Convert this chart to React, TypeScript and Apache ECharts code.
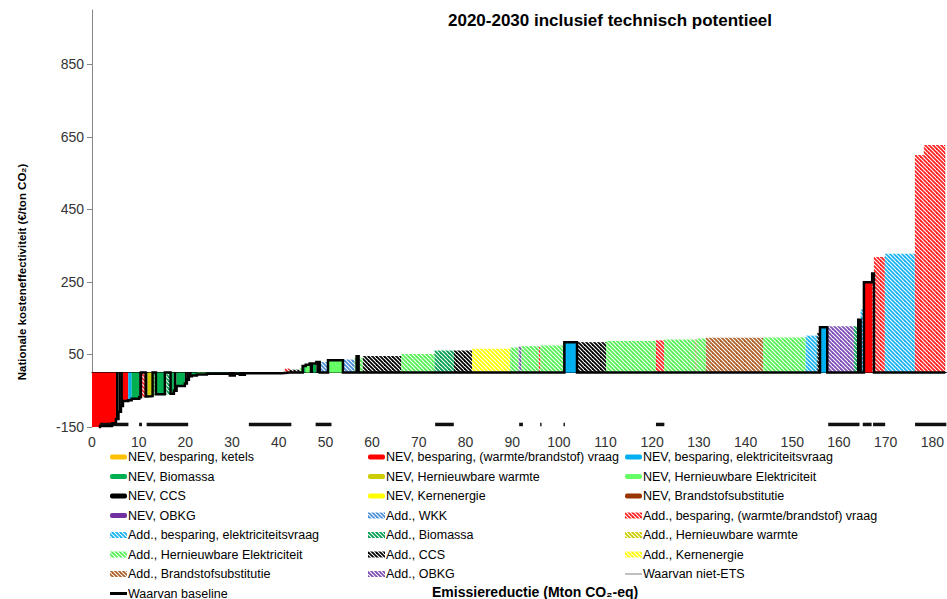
import React, { useEffect, useRef } from 'react';
import * as echarts from 'echarts';

// ---------- categories / legend ----------
const categoryKeys = ['nK', 'nW', 'nE', 'nB', 'nHW', 'nHE', 'nCCS', 'nKern', 'nBS', 'nO',
  'aWKK', 'aW', 'aE', 'aB', 'aHW', 'aHE', 'aCCS', 'aKern', 'aBS', 'aO', 'nietEts', 'baseline'];
const legendLabels = [
  'NEV, besparing, ketels', 'NEV, besparing, (warmte/brandstof) vraag', 'NEV, besparing, elektriciteitsvraag',
  'NEV, Biomassa', 'NEV, Hernieuwbare warmte', 'NEV, Hernieuwbare Elektriciteit',
  'NEV, CCS', 'NEV, Kernenergie', 'NEV, Brandstofsubstitutie',
  'NEV, OBKG', 'Add., WKK', 'Add., besparing, (warmte/brandstof) vraag',
  'Add., besparing, elektriciteitsvraag', 'Add., Biomassa', 'Add., Hernieuwbare warmte',
  'Add., Hernieuwbare Elektriciteit', 'Add., CCS', 'Add., Kernenergie',
  'Add., Brandstofsubstitutie', 'Add., OBKG', 'Waarvan niet-ETS',
  'Waarvan baseline'];
const categoryColors = ['#FFC000', '#FF0000', '#00B0F0', '#00B050', '#CCCC00', '#66FF66', '#000000', '#FFFF00', '#993300', '#7030A0',
  '#4A8FD8', '#FF2020', '#19B4F0', '#00A050', '#CCCC00', '#55F055', '#000000', '#FFFF00', '#B0602A', '#8050B8', '#BFBFBF', '#000000'];
const categoryKinds = ['solid', 'solid', 'solid', 'solid', 'solid', 'solid', 'solid', 'solid', 'solid', 'solid',
  'hatch', 'hatch', 'hatch', 'hatch', 'hatch', 'hatch', 'hatch', 'hatch', 'hatch', 'hatch', 'thin', 'thick'];

// ---------- measures (in merit order) ----------
const measureWidths = [1.71, 2.57, 0.85, 0.54, 0.53, 0.43, 1.13, 0.73, 1.63, 0.36,
  1.01, 0.42, 1.07, 0.71, 1.92, 0.37, 0.85, 0.71, 0.58, 1.77,
  0.43, 0.43, 0.64, 1.07, 2.14, 4.92, 1.07, 1.07, 1.07, 7.91,
  0.64, 1.07, 2.14, 0.64, 0.65, 0.85, 0.71, 0.72, 0.71, 1.78,
  3.20, 2.51, 0.42, 0.43, 0.92, 8.22, 7.12, 4.17, 3.89, 8.13,
  1.84, 0.58, 3.74, 0.32, 5.14, 2.71, 6.21, 10.69, 1.78, 6.73,
  0.15, 2.04, 12.25, 9.14, 2.48, 0.58, 1.56, 5.71, 0.92, 0.51,
  0.71, 1.77, 0.37, 2.35, 6.42, 1.92, 4.60];
const measureCosts = [-200, -147, -140, -128, -108, -92, -78, -76, -72, -68,
  -68, -66, -65, -63, -60, -60, -60, -58, -50, -37,
  -30, -20, -10, -8, -5, -3, -8, -3, -6, -2,
  -1, 11, 8, 12, 18, 22, 25, 25, 29, 29,
  34, 36, 40, 45, 41, 46, 51, 61, 61, 66,
  69, 72, 73, 71, 75, 84, 84, 87, 89, 91,
  91, 94, 96, 97, 102, 110, 125, 128, 128, 146,
  174, 249, 273, 319, 328, 600, 628];
const measureCategories = ['nW', 'nW', 'nW', 'nCCS', 'nCCS', 'nCCS', 'nW', 'nE', 'nB', 'nCCS',
  'aW', 'nCCS', 'nHW', 'aHE', 'nB', 'aHE', 'aB', 'nB', 'nCCS', 'nB',
  'nCCS', 'nCCS', 'nCCS', 'nB', 'nHE', 'nB', 'nCCS', 'nB', 'nCCS', 'nB',
  'nCCS', 'aW', 'aCCS', 'aHE', 'nB', 'nHE', 'nCCS', 'nB', 'nCCS', 'aWKK',
  'nHE', 'aWKK', 'aHE', 'nCCS', 'aHE', 'aCCS', 'aHE', 'aB', 'aCCS', 'aKern',
  'aHE', 'aO', 'aHE', 'aW', 'aHE', 'nE', 'aCCS', 'aHE', 'aW', 'aHE',
  'aW', 'aHE', 'aBS', 'aHE', 'aE', 'aCCS', 'nE', 'aO', 'aB', 'aE',
  'aE', 'nW', 'aW', 'aW', 'aE', 'aW', 'aW'];
const measureBaseline = [1, 1, 1, 1, 1, 1, 1, 1, 1, 1,
  0, 1, 1, 0, 1, 0, 0, 1, 1, 1,
  1, 1, 1, 1, 1, 1, 1, 1, 1, 1,
  1, 0, 0, 0, 1, 1, 1, 1, 1, 0,
  1, 0, 0, 1, 0, 0, 0, 0, 0, 0,
  0, 0, 0, 0, 0, 1, 0, 0, 0, 0,
  0, 0, 0, 0, 0, 0, 1, 0, 0, 1,
  0, 1, 1, 0, 0, 0, 0];

// ---------- niet-ETS markers (Mton ranges) ----------
const nietEtsStarts = [1.7, 10.1, 11.7, 33.6, 47.9, 73.5, 91.5, 96.0, 101.0, 120.8, 157.7, 165.1, 167.3, 176.3];
const nietEtsEnds = [7.8, 10.7, 20.6, 42.7, 51.3, 77.5, 92.3, 96.3, 101.3, 122.6, 164.4, 167.0, 169.9, 183.0];
const nietEtsLevel = -143;

// ---------- axes ----------
const xTicks = [0, 10, 20, 30, 40, 50, 60, 70, 80, 90, 100, 110, 120, 130, 140, 150, 160, 170, 180];
const yTicks = [-150, 50, 250, 450, 650, 850];

const FONT = '"Liberation Sans", Arial, Helvetica, sans-serif';

function makeHatch(color: string) {
  const c = document.createElement('canvas');
  c.width = 8; c.height = 8;
  const ctx = c.getContext('2d')!;
  ctx.strokeStyle = color;
  ctx.lineWidth = 1.8;
  for (const off of [-8, -4, 0, 4, 8]) {
    ctx.beginPath();
    ctx.moveTo(-2, -2 + off);
    ctx.lineTo(10, 10 + off);
    ctx.stroke();
  }
  return { image: c.toDataURL(), repeat: 'repeat', imageWidth: 8, imageHeight: 8 };
}

export default function App() {
  const ref = useRef<HTMLDivElement>(null);
  useEffect(() => {
    const chart = echarts.init(ref.current!, null, { renderer: 'svg', width: 947, height: 599 });

    const fills: any[] = categoryKeys.map((k, i) =>
      categoryKinds[i] === 'hatch' ? makeHatch(categoryColors[i]) : categoryColors[i]);
    const catIndex = (k: string) => categoryKeys.indexOf(k);

    // cumulative positions
    const starts: number[] = [];
    const ends: number[] = [];
    let acc = 0;
    measureWidths.forEach((w) => { starts.push(acc); acc += w; ends.push(acc); });
    const barData = measureWidths.map((_, i) => [starts[i], ends[i], measureCosts[i], catIndex(measureCategories[i])]);

    const baselinePts: number[][] = [];
    measureWidths.forEach((_, i) => {
      const y = measureBaseline[i] ? measureCosts[i] : 0;
      baselinePts.push([starts[i], y], [ends[i], y]);
    });

    const etsData = nietEtsStarts.map((s, i) => [s, nietEtsEnds[i], nietEtsLevel]);

    // legend graphic
    const colX = [110, 368, 625];
    const legendEls: any[] = [];
    legendLabels.forEach((label, i) => {
      const cx = colX[i % 3];
      const cy = 457 + Math.floor(i / 3) * 19.5;
      const kind = categoryKinds[i];
      if (kind === 'solid') {
        legendEls.push({ type: 'rect', shape: { x: cx, y: cy - 2.5, width: 17, height: 5, r: 2 }, style: { fill: fills[i] } });
      } else if (kind === 'hatch') {
        legendEls.push({ type: 'rect', shape: { x: cx, y: cy - 3, width: 17, height: 6 }, style: { fill: fills[i] } });
      } else {
        legendEls.push({ type: 'line', shape: { x1: cx, y1: cy, x2: cx + 17, y2: cy },
          style: { stroke: categoryColors[i], lineWidth: kind === 'thick' ? 3 : 2 } });
      }
      legendEls.push({ type: 'text', x: cx + 18, y: cy,
        style: { text: label, fill: '#000', font: `12.5px ${FONT}`, align: 'left', verticalAlign: 'middle',
          textAlign: 'left', textVerticalAlign: 'middle' } });
    });

    const option: any = {
      animation: false,
      backgroundColor: '#fff',
      grid: { left: 92, right: 0, top: 10, bottom: 172, containLabel: false },
      xAxis: {
        type: 'value', min: 0, max: 183, interval: 10,
        axisLine: { show: true, onZero: true, lineStyle: { color: '#000', width: 1 } },
        axisTick: { show: false },
        splitLine: { show: false },
        axisLabel: { customValues: xTicks, margin: 8, fontSize: 14, color: '#333', fontFamily: FONT },
      },
      yAxis: {
        type: 'value', min: -150, max: 1000, interval: 200,
        axisLine: { show: true, onZero: false, lineStyle: { color: '#868686', width: 1 } },
        axisTick: { show: true, length: 5, customValues: yTicks, lineStyle: { color: '#868686' } },
        splitLine: { show: false },
        axisLabel: { customValues: yTicks, margin: 8, fontSize: 14, color: '#333', fontFamily: FONT },
      },
      graphic: {
        elements: [
          { type: 'text', x: 610, y: 20, style: { text: '2020-2030 inclusief technisch potentieel', fill: '#000',
            font: `bold 17px ${FONT}`, align: 'center', verticalAlign: 'middle', textAlign: 'center', textVerticalAlign: 'middle' } },
          { type: 'text', x: 22, y: 272, rotation: Math.PI / 2, style: { text: 'Nationale kosteneffectiviteit (€/ton CO₂)', fill: '#000',
            font: `bold 11.5px ${FONT}`, align: 'center', verticalAlign: 'middle', textAlign: 'center', textVerticalAlign: 'middle' } },
          { type: 'text', x: 432, y: 592, style: { text: 'Emissiereductie (Mton CO₂-eq)', fill: '#000',
            font: `bold 14px ${FONT}`, align: 'left', verticalAlign: 'middle', textAlign: 'left', textVerticalAlign: 'middle' } },
          ...legendEls,
        ],
      },
      series: [
        {
          type: 'custom',
          name: 'maatregelen',
          data: barData,
          encode: { x: [0, 1], y: 2 },
          z: 2,
          renderItem: (params: any, api: any) => {
            const x0 = api.value(0), x1 = api.value(1), v = api.value(2), ci = api.value(3);
            const p0 = api.coord([x0, 0]);
            const p1 = api.coord([x1, v]);
            const rect = { x: p0[0], y: Math.min(p0[1], p1[1]), width: p1[0] - p0[0], height: Math.abs(p1[1] - p0[1]) };
            const cs = params.coordSys;
            const clipped = echarts.graphic.clipRectByRect(rect, { x: cs.x, y: cs.y, width: cs.width, height: cs.height });
            if (!clipped) return null;
            return { type: 'rect', shape: clipped, style: { fill: fills[ci], stroke: null } };
          },
        },
        {
          type: 'custom',
          name: 'Waarvan niet-ETS',
          data: etsData,
          encode: { x: [0, 1], y: 2 },
          z: 3,
          renderItem: (params: any, api: any) => {
            const a = api.coord([api.value(0), api.value(2)]);
            const b = api.coord([api.value(1), api.value(2)]);
            const right = params.coordSys.x + params.coordSys.width;
            return { type: 'line', shape: { x1: a[0], y1: a[1], x2: Math.min(b[0], right), y2: b[1] },
              style: { stroke: '#111', lineWidth: 3.5 } };
          },
        },
        {
          type: 'line',
          name: 'Waarvan baseline',
          data: baselinePts,
          symbol: 'none',
          showSymbol: false,
          clip: true,
          z: 5,
          lineStyle: { color: '#000', width: 2.5, join: 'miter' },
        },
      ],
    };
    chart.setOption(option);
    return () => chart.dispose();
  }, []);
  return <div ref={ref} style={{ position: 'absolute', left: 0, top: 0, width: 947, height: 599, background: '#fff' }} />;
}
